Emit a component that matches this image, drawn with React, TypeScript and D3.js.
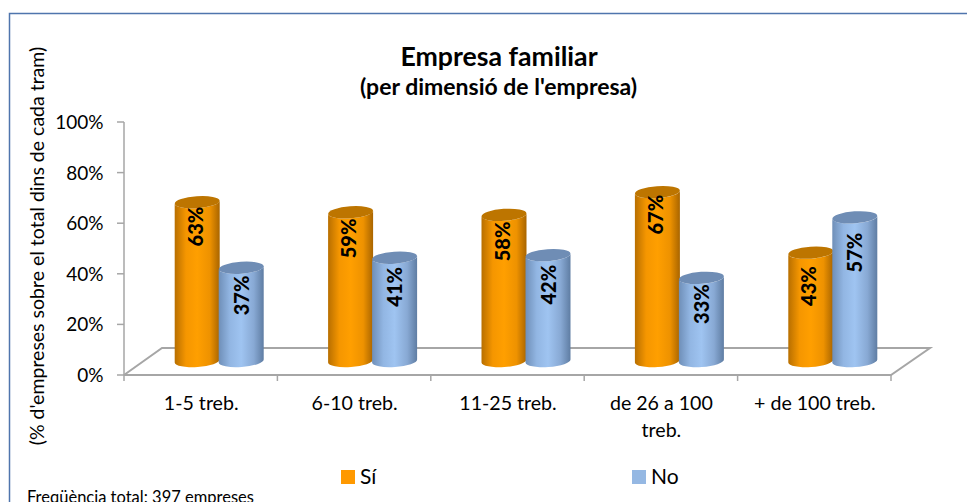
import React from 'react';
import * as d3 from 'd3';

const categories: string[][] = [['1-5 treb.'], ['6-10 treb.'], ['11-25 treb.'], ['de 26 a 100', 'treb.'], ['+ de 100 treb.']];
const siValues = [63, 59, 58, 67, 43];
const noValues = [37, 41, 42, 33, 57];
const seriesNames = ['Sí', 'No'];
const ticks = [0, 20, 40, 60, 80, 100];

const FONT = 'Lato, Carlito, sans-serif';
const width = 967;
const height = 502;

// front of the floor
const x0 = d3.scaleBand<number>().domain(d3.range(5)).range([124, 891]);
const y = d3.scaleLinear().domain([0, 100]).range([375, 122]);
// height of a cylinder, measured from its base
const barH = d3.scaleLinear().domain([0, 100]).range([0, 252]);

const depthX = 38;
const depthY = 27;
const baseY = 361;
const rx = 22.5;
const ry = 6;
const tilt = -4;

// the data labels do not sit at a fixed distance from the top, one scale per series
const labelY = [
  d3.scaleLinear().domain([43, 63]).range([286, 226.5]),
  d3.scaleLinear().domain([33, 57]).range([304, 252.5]),
];

const palette = [
  { id: 'si', stops: ['#b86f00', '#f59600', '#ff9f00', '#ee9200', '#a96500'], top: '#bd7500' },
  { id: 'no', stops: ['#6f8fb8', '#92b6e3', '#9fc4f1', '#88a9d4', '#5f7da3'], top: '#6f8db5' },
];

function cylinderPath(cx: number, topY: number, botY: number) {
  const s = Math.sin((tilt * Math.PI) / 180) * rx;
  return `M${cx - rx},${topY - s} L${cx - rx},${botY - s}
    A${rx},${ry} ${tilt} 0 0 ${cx + rx},${botY + s}
    L${cx + rx},${topY + s}
    A${rx},${ry} ${tilt} 0 1 ${cx - rx},${topY - s} Z`;
}

export default function App() {
  const bw = x0.bandwidth();
  const floor = d3.line()([
    [124, y(0)],
    [891, y(0)],
    [891 + depthX + 1, y(0) - depthY],
    [124 + depthX, y(0) - depthY],
    [124, y(0)],
  ]) as string;

  return (
    <svg
      width={width}
      height={height}
      viewBox={`0 0 ${width} ${height}`}
      style={{ position: 'absolute', left: 0, top: 0, display: 'block', background: '#fff' }}
      fontFamily={FONT}
    >
      <defs>
        {palette.map(p => (
          <linearGradient key={p.id} id={`grad-${p.id}`} x1="0" x2="1" y1="0" y2="0">
            {p.stops.map((c, i) => (
              <stop key={i} offset={[0, 0.25, 0.5, 0.78, 1][i]} stopColor={c} />
            ))}
          </linearGradient>
        ))}
      </defs>

      {/* outer frame, cut by the bottom and right of the picture */}
      <path d={`M9.5,${height} V13.5 H${width}`} fill="none" stroke="#4f75ad" strokeWidth={1.5} />

      <text x={499} y={66} textAnchor="middle" fontSize={26.7} fontWeight={700}>Empresa familiar</text>
      <text x={498.5} y={95} textAnchor="middle" fontSize={23} fontWeight={700}>(per dimensió de l'empresa)</text>

      <text
        transform="translate(43.5,246) rotate(-90)"
        textAnchor="middle"
        fontSize={19.5}
      >
        (% d'empreses sobre el total dins de cada tram)
      </text>

      {/* floor and axes */}
      <path d={floor} fill="none" stroke="#a6a6a6" strokeWidth={2} />
      <line x1={124} x2={124} y1={y(100)} y2={y(0)} stroke="#a6a6a6" strokeWidth={1.5} />
      {ticks.map(t => (
        <g key={t}>
          <line x1={117} x2={124} y1={y(t)} y2={y(t)} stroke="#a6a6a6" strokeWidth={1.5} />
          <text x={103.5} y={y(t) + 7} textAnchor="end" fontSize={19}>{`${t}%`}</text>
        </g>
      ))}
      {d3.range(6).map(i => {
        const tx = i < 5 ? (x0(i) as number) : 891;
        return <line key={i} x1={tx} x2={tx} y1={375} y2={381} stroke="#a6a6a6" strokeWidth={1.5} />;
      })}

      {/* cylinders */}
      {categories.map((cat, i) => {
        const center = (x0(i) as number) + bw / 2 + 18.5;
        return (
          <g key={cat[0]}>
            {[siValues[i], noValues[i]].map((v, s) => {
              const cx = center + (s === 0 ? -22 : 22);
              const topY = baseY - barH(v);
              const p = palette[s];
              return (
                <g key={s}>
                  <path d={cylinderPath(cx, topY, baseY)} fill={`url(#grad-${p.id})`} />
                  <ellipse
                    cx={cx}
                    cy={topY}
                    rx={rx}
                    ry={ry}
                    fill={p.top}
                    transform={`rotate(${tilt} ${cx} ${topY})`}
                  />
                  <text
                    transform={`translate(${cx + (s === 0 ? 5.5 : 7.5)},${labelY[s](v)}) rotate(-90)`}
                    textAnchor="middle"
                    fontSize={20}
                    fontWeight={900}
                  >
                    {`${v}%`}
                  </text>
                </g>
              );
            })}
          </g>
        );
      })}

      {/* category labels */}
      {categories.map((cat, i) => (
        <text key={cat[0]} textAnchor="middle" fontSize={19.6}>
          {cat.map((line, k) => (
            <tspan key={line} x={(x0(i) as number) + bw / 2 + 0.5} y={410 + k * 27}>{line}</tspan>
          ))}
        </text>
      ))}

      {/* legend */}
      {seriesNames.map((name, s) => {
        const lx = s === 0 ? 341 : 632;
        return (
          <g key={name}>
            <rect x={lx} y={470} width={14} height={14} fill={s === 0 ? '#ff9900' : '#95b8e3'} />
            <text x={lx + 19} y={484} fontSize={21}>{name}</text>
          </g>
        );
      })}

      <text x={27} y={502.5} fontSize={16.5}>Freqüència total: 397 empreses</text>
    </svg>
  );
}
